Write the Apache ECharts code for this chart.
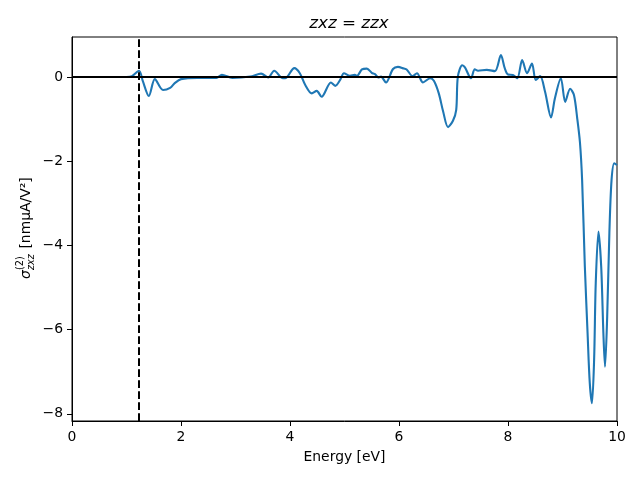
<!DOCTYPE html>
<html>
<head>
<meta charset="utf-8">
<script src="https://cdn.jsdelivr.net/npm/echarts@6/dist/echarts.min.js"></script>
<style>html,body{margin:0;padding:0;background:#fff}#c{width:640px;height:480px}</style>
</head>
<body>
<div id="c"></div>
<script>
const energy = [0, 0.5, 1.0, 1.1, 1.23, 1.3, 1.41, 1.52, 1.67, 1.80, 1.89, 2.0, 2.3, 2.65, 2.75, 2.94, 3.27, 3.47, 3.6, 3.71, 3.87, 3.93, 4.08, 4.18, 4.28, 4.40, 4.49, 4.58, 4.75, 4.83, 4.92, 4.99, 5.10, 5.19, 5.23, 5.32, 5.41, 5.50, 5.56, 5.62, 5.67, 5.76, 5.89, 5.98, 6.09, 6.14, 6.25, 6.33, 6.44, 6.57, 6.64, 6.73, 6.81, 6.90, 6.99, 7.05, 7.08, 7.16, 7.21, 7.32, 7.39, 7.45, 7.61, 7.76, 7.87, 7.94, 8.0, 8.09, 8.17, 8.26, 8.35, 8.44, 8.51, 8.59, 8.68, 8.79, 8.86, 8.97, 9.05, 9.14, 9.21, 9.27, 9.32, 9.36, 9.41, 9.46, 9.50, 9.54, 9.58, 9.61, 9.66, 9.71, 9.75, 9.78, 9.82, 9.86, 9.90, 9.95, 10.0];
const sigma = [0, 0, 0, 0.02, 0.15, -0.1, -0.45, -0.05, -0.31, -0.26, -0.14, -0.05, -0.02, -0.02, 0.05, -0.02, 0.01, 0.08, -0.01, 0.15, -0.03, -0.02, 0.21, 0.09, -0.19, -0.39, -0.33, -0.47, -0.13, -0.21, -0.07, 0.09, 0.03, 0.05, 0.03, 0.18, 0.20, 0.10, 0.07, -0.01, 0.01, -0.13, 0.19, 0.24, 0.20, 0.18, 0.02, 0.09, -0.13, -0.03, -0.09, -0.39, -0.82, -1.19, -1.04, -0.78, 0.01, 0.28, 0.23, -0.03, 0.18, 0.15, 0.17, 0.14, 0.52, 0.21, 0.06, 0.05, -0.03, 0.40, 0.09, 0.32, -0.07, 0.02, -0.35, -0.96, -0.51, -0.03, -0.59, -0.28, -0.43, -0.98, -1.55, -2.45, -4.5, -6.08, -7.26, -7.75, -6.72, -4.9, -3.67, -4.5, -6.08, -6.88, -5.69, -3.71, -2.45, -2.05, -2.09];
const bandGap = 1.23;
const xTicks = [0, 2, 4, 6, 8, 10];
const yTicks = [-8, -6, -4, -2, 0];

const FONT = 'DejaVu Sans';
const fmt = v => String(v).replace('-', '\u2212');
const chart = echarts.init(document.getElementById('c'), null, {renderer: 'canvas'});
chart.setOption({
  animation: false,
  backgroundColor: '#fff',
  title: {
    text: '{i|zxz} = {i|zzx}',
    left: 344, top: 10, textAlign: 'center',
    textStyle: {
      fontFamily: FONT, fontSize: 16.7, fontWeight: 'normal', color: '#000',
      rich: { i: { fontFamily: FONT, fontSize: 16.7, fontStyle: 'italic', color: '#000' } }
    }
  },
  grid: { left: 72, right: 23, top: 37, bottom: 59, show: true, borderColor: '#000', borderWidth: 1, backgroundColor: 'transparent' },
  xAxis: {
    type: 'value', min: 0, max: 10, interval: 2,
    name: 'Energy [eV]', nameLocation: 'middle', nameGap: 29,
    nameTextStyle: { fontFamily: FONT, fontSize: 13.9, color: '#000' },
    axisLine: { show: true, onZero: false, lineStyle: { color: '#000', width: 1 } },
    axisTick: { show: true, length: 5, lineStyle: { color: '#000', width: 1 }, customValues: xTicks },
    axisLabel: { fontFamily: FONT, fontSize: 13.9, color: '#000', margin: 9, customValues: xTicks, formatter: fmt },
    splitLine: { show: false }
  },
  yAxis: {
    type: 'value', min: -8.17, max: 0.95,
    axisLine: { show: true, onZero: false, lineStyle: { color: '#000', width: 1 } },
    axisTick: { show: true, length: 5, lineStyle: { color: '#000', width: 1 }, customValues: yTicks },
    axisLabel: { fontFamily: FONT, fontSize: 13.9, color: '#000', margin: 9, customValues: yTicks, formatter: fmt },
    splitLine: { show: false }
  },
  graphic: [{
    type: 'group', x: 26, y: 229, rotation: Math.PI / 2,
    children: [
      { type: 'text', x: -50, y: 0, style: { text: 'σ', font: 'italic 13.9px "DejaVu Sans"', fill: '#000', verticalAlign: 'middle', align: 'left' } },
      { type: 'text', x: -41, y: -6, style: { text: '(2)', font: '9.7px "DejaVu Sans"', fill: '#000', verticalAlign: 'middle', align: 'left' } },
      { type: 'text', x: -41, y: 5, style: { text: 'zxz', font: 'italic 9.7px "DejaVu Sans"', fill: '#000', verticalAlign: 'middle', align: 'left' } },
      { type: 'text', x: -24, y: 0, style: { text: ' [nmμA/V²]', font: '13.9px "DejaVu Sans"', fill: '#000', verticalAlign: 'middle', align: 'left' } }
    ]
  }],
  series: [{
    type: 'line',
    data: energy.map((e, i) => [e, sigma[i]]),
    showSymbol: false, symbol: 'none',
    smooth: 0.3,
    lineStyle: { color: '#1f77b4', width: 2.1 },
    itemStyle: { color: '#1f77b4' },
    z: 2,
    markLine: {
      silent: true, symbol: ['none', 'none'], label: { show: false }, animation: false,
      data: [
        { yAxis: 0, lineStyle: { color: '#000', width: 2, type: 'solid' } },
        { xAxis: bandGap, lineStyle: { color: '#000', width: 2, type: [7.7, 3.3] } }
      ]
    }
  }]
});
</script>
</body>
</html>
